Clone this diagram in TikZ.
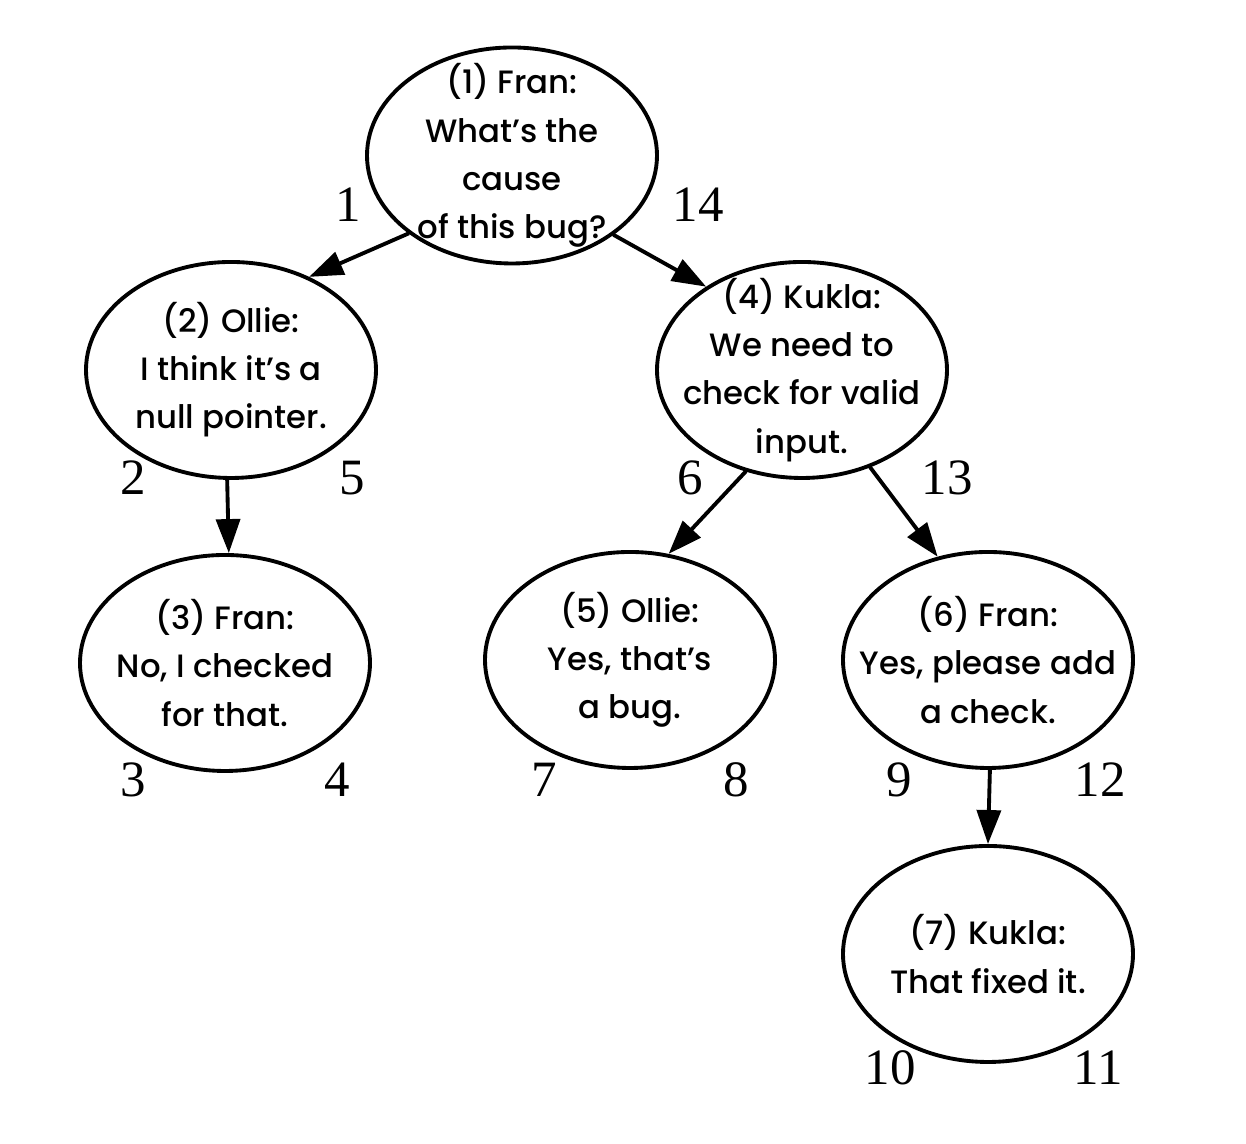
\documentclass[tikz,border=0pt]{standalone}
\usepackage{fontspec}
\setmainfont{Poppins}[UprightFont={* Medium}]
\newfontfamily\numfont{Liberation Serif}
\usetikzlibrary{arrows.meta,shapes.geometric}

\tikzset{
    turn/.style={ellipse,draw,line width=1.1pt,minimum width=2.9cm,minimum height=2.16cm,inner sep=-1cm,align=center,font=\fontsize{9.2}{13.7}\selectfont},
    num/.style={inner sep=0pt,font=\numfont\fontsize{14.5}{14.5}\selectfont},
    reply/.style={line width=1.1pt,-{Triangle[length=3.4mm,width=2.4mm]}}
}

\begin{document}
\begin{tikzpicture}[line cap=round,line join=round,x=1cm,y=1cm]

    \useasboundingbox (0,0) rectangle (12.46,11.44);

    \draw (5.12,9.885) node[turn] (F1) {(1) Fran:\\What’s the\\cause\\of this bug?};
    \draw (2.31,7.74) node[turn] (O2) {(2) Ollie:\\I think it’s a\\null pointer.};
    \draw (2.25,4.81) node[turn] (F3) {(3) Fran:\\No, I checked\\for that.};
    \draw (8.02,7.74) node[turn] (K4) {(4) Kukla:\\We need to\\check for valid\\input.};
    \draw (6.30,4.84) node[turn] (O5) {(5) Ollie:\\Yes, that’s\\a bug.};
    \draw (9.88,4.84) node[turn] (F6) {(6) Fran:\\Yes, please add\\a check.};
    \draw (9.88,1.90) node[turn] (K7) {(7) Kukla:\\That fixed it.};

    % Replies
    \draw[reply] (F1.217) -- (O2.50);
    \draw[reply] (F1.322) -- (K4.139);
    \draw[reply] (O2.268) -- (F3.88);
    \draw[reply] (K4.241) -- (O5.70);
    \draw[reply] (K4.305) -- (F6.116);
    \draw[reply] (F6.271) -- (K7.90);

    % Walk order
    \draw (3.48,9.39) node[num] (w1) {1};
    \draw (6.98,9.39) node[num] (w14) {14};
    \draw (1.33,6.66) node[num] (w2) {2};
    \draw (3.52,6.66) node[num] (w5) {5};
    \draw (6.90,6.66) node[num] (w6) {6};
    \draw (9.47,6.66) node[num] (w13) {13};
    \draw (1.33,3.64) node[num] (w3) {3};
    \draw (3.37,3.64) node[num] (w4) {4};
    \draw (5.44,3.64) node[num] (w7) {7};
    \draw (7.36,3.64) node[num] (w8) {8};
    \draw (8.99,3.64) node[num] (w9) {9};
    \draw (11.00,3.64) node[num] (w12) {12};
    \draw (8.90,0.76) node[num] (w10) {10};
    \draw (10.98,0.76) node[num] (w11) {11};
\end{tikzpicture}
\end{document}
